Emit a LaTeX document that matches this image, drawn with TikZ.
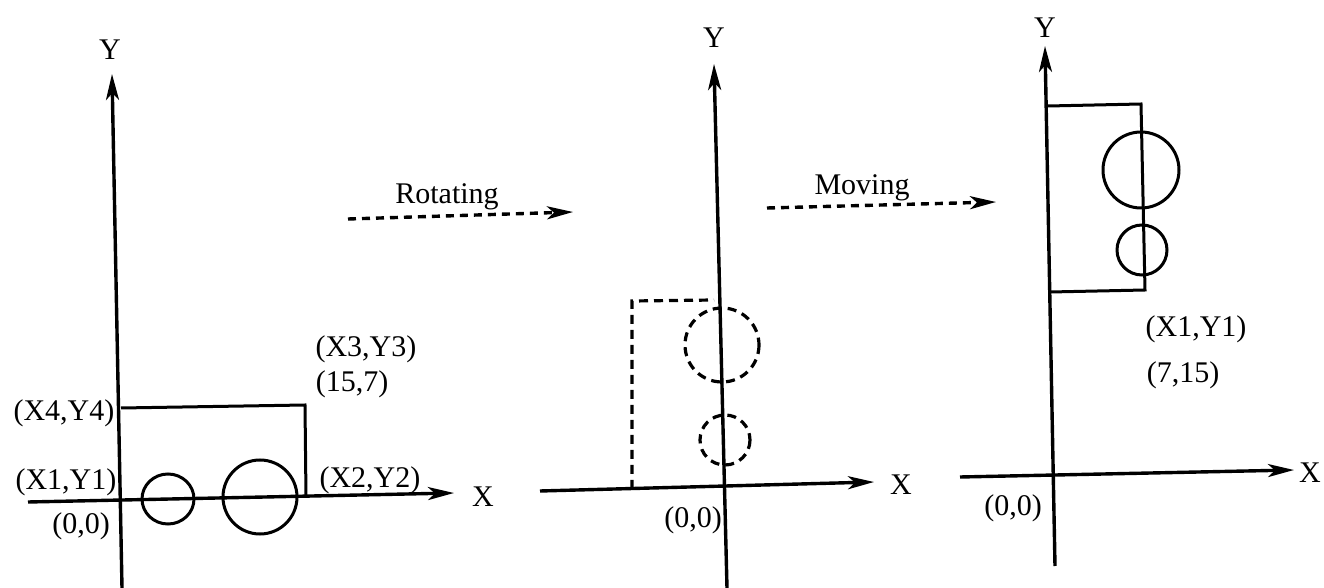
\documentclass[tikz,border=0pt]{standalone}
\usepackage{fontspec}
\setmainfont{Liberation Serif}
\usetikzlibrary{arrows.meta}
\begin{document}
\begin{tikzpicture}[x=0.5pt,y=-0.5pt,
  axis/.style={line width=1.7pt,-{Stealth[length=13pt,width=6.5pt,inset=3.5pt]}},
  plain/.style={line width=1.5pt},
  dsh/.style={line width=1.6pt,dash pattern=on 4.5pt off 3pt},
  darrow/.style={line width=1.7pt,dash pattern=on 4pt off 3pt,-{Stealth[length=13pt,width=6.5pt,inset=3.5pt]}},
  lbl/.style={font=\fontsize{15}{18}\selectfont,inner sep=0pt}]
\useasboundingbox (0,0) rectangle (1324,588);
% ---------- panel 1 ----------
\coordinate (y1b) at (122,588);
\coordinate (y1t) at (112,74);
\coordinate (x1l) at (28,502);
\coordinate (x1r) at (454,493);
\draw[axis] (y1b) -- (y1t);
\draw[axis] (x1l) -- (x1r);
\node[lbl] (Y1) at (110,50) {Y};
\node[lbl] (X1) at (483,497) {X};
\coordinate (r1a) at (121,408);
\coordinate (r1b) at (305,405);
\coordinate (r1c) at (306,497);
\draw[plain] (r1a) -- (r1b) -- (r1c);
\draw[plain] (168,499) ellipse [x radius=26, y radius=25];
\draw[plain] (260,497) ellipse [x radius=37, y radius=37];
\node[lbl] (l14) at (64,413) {(X4,Y4)};
\node[lbl] (l13) at (366,349) {(X3,Y3)};
\node[lbl] (l157) at (352,384) {(15,7)};
\node[lbl] (l11) at (66,482) {(X1,Y1)};
\node[lbl] (l12) at (370,480) {(X2,Y2)};
\node[lbl] (l10) at (81,526) {(0,0)};
% rotating
\coordinate (ra) at (348,219);
\coordinate (rb) at (573,212);
\draw[darrow] (ra) -- (rb);
\node[lbl] (rot) at (447,197) {Rotating};
% ---------- panel 2 ----------
\coordinate (y2b) at (727,588);
\coordinate (y2t) at (714,64);
\coordinate (x2l) at (540,491);
\coordinate (x2r) at (874,482);
\draw[axis] (y2b) -- (y2t);
\draw[axis] (x2l) -- (x2r);
\node[lbl] (Y2) at (714,38) {Y};
\node[lbl] (X2) at (901,485) {X};
\coordinate (r2a) at (632,489);
\coordinate (r2b) at (632,301);
\coordinate (r2c) at (714,300);
\draw[dsh] (r2a) -- (r2b) -- (r2c);
\draw[dsh] (722,345) circle [radius=37];
\draw[dsh] (725,440) ellipse [x radius=25, y radius=25];
\node[lbl] (l20) at (693,520) {(0,0)};
% moving
\coordinate (ma) at (767,208);
\coordinate (mb) at (996,202);
\draw[darrow] (ma) -- (mb);
\node[lbl] (mov) at (862,188) {Moving};
% ---------- panel 3 ----------
\coordinate (y3b) at (1055,566);
\coordinate (y3t) at (1045,46);
\coordinate (x3l) at (960,477);
\coordinate (x3r) at (1294,470);
\draw[axis] (y3b) -- (y3t);
\draw[axis] (x3l) -- (x3r);
\node[lbl] (Y3) at (1045,28) {Y};
\node[lbl] (X3) at (1310,473) {X};
\coordinate (r3a) at (1048,106);
\coordinate (r3b) at (1141,104);
\coordinate (r3c) at (1145,290);
\coordinate (r3d) at (1050,292);
\draw[plain] (r3a) -- (r3b) -- (r3c) -- (r3d);
\draw[plain] (1141,170) circle [radius=38];
\draw[plain] (1142,250) circle [radius=25];
\node[lbl] (l31) at (1196,329) {(X1,Y1)};
\node[lbl] (l3715) at (1183,375) {(7,15)};
\node[lbl] (l30) at (1013,508) {(0,0)};
\end{tikzpicture}
\end{document}
